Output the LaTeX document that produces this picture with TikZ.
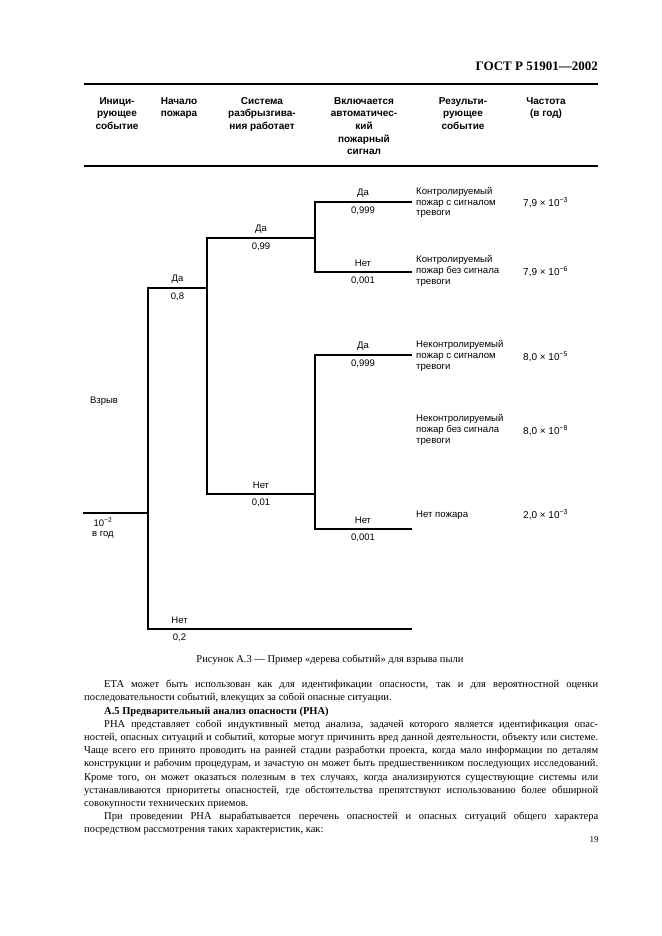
\documentclass[tikz,border=0pt]{standalone}
\usepackage{fontspec}
\setmainfont{Liberation Serif}
\setsansfont{Liberation Sans}
\usetikzlibrary{positioning}

% one justified line of the running text
\newcommand{\jline}[1]{\makebox[514pt][s]{#1}}
\newcommand{\pind}{\hspace*{20pt}}

\begin{document}
\begin{tikzpicture}[x=1pt, y=-1pt,
    hdr/.style={font=\sffamily\bfseries\fontsize{10}{12.7}\selectfont, align=center, anchor=north, inner sep=0pt},
    rule/.style={line width=1.8pt},
    branch/.style={line width=2.2pt, line cap=rect},
    lbl/.style={font=\sffamily\fontsize{9.5}{10}\selectfont, inner sep=0pt},
    outc/.style={font=\sffamily\fontsize{9.6}{10.8}\selectfont, align=left, anchor=west, inner sep=0pt},
    freq/.style={font=\sffamily\fontsize{10}{11}\selectfont, anchor=west, inner sep=0pt},
    body/.style={font=\fontsize{10.5}{13.2}\selectfont, align=left, anchor=north west, inner sep=0pt}
]
\fill[white] (0,0) rectangle (661,936);
\useasboundingbox (0,0) rectangle (661,936);

% page head
\node[font=\bfseries\fontsize{13}{15}\selectfont, anchor=east, inner sep=0pt] (gost) at (598,66) {ГОСТ Р 51901—2002};

% table head
\coordinate (ruleTL) at (84,84);
\coordinate (ruleTR) at (598,84);
\coordinate (ruleBL) at (84,166);
\coordinate (ruleBR) at (598,166);
\draw[rule] (ruleTL) -- (ruleTR);
\draw[rule] (ruleBL) -- (ruleBR);

\node[hdr] (hInit) at (117,97) {Иници-\\рующее\\событие};
\node[hdr] (hFire) at (179,97) {Начало\\пожара};
\node[hdr] (hSpr) at (262,97) {Система\\разбрызгива-\\ния работает};
\node[hdr] (hAlarm) at (364,97) {Включается\\автоматичес-\\кий\\пожарный\\сигнал};
\node[hdr] (hRes) at (463,97) {Результи-\\рующее\\событие};
\node[hdr] (hFreq) at (546,97) {Частота\\(в год)};

% tree points
\coordinate (ini) at (84,513);
\coordinate (fire) at (148,513);
\coordinate (fireY) at (148,288);
\coordinate (fireN) at (148,629);
\coordinate (sprA) at (207,288);
\coordinate (sprY) at (207,238);
\coordinate (sprN) at (207,494);
\coordinate (al1) at (315,238);
\coordinate (al1Y) at (315,202);
\coordinate (al1N) at (315,272);
\coordinate (al2) at (315,494);
\coordinate (al2Y) at (315,355);
\coordinate (al2N) at (315,529);
\coordinate (end1) at (411,202);
\coordinate (end2) at (411,272);
\coordinate (end3) at (411,355);
\coordinate (end5) at (411,529);
\coordinate (end6) at (411,629);

\draw[branch] (ini) -- (fire);
\draw[branch] (fireY) -- (fireN);
\draw[branch] (fireY) -- node[lbl, above=4pt] (yFire) {Да} node[lbl, below=4pt] (pYFire) {0,8} (sprA);
\draw[branch] (fireN) -- node[lbl, pos=0.12, above=4pt] (nFire) {Нет} node[lbl, pos=0.12, below=4pt] (pNFire) {0,2} (end6);
\draw[branch] (sprY) -- (sprN);
\draw[branch] (sprY) -- node[lbl, above=4pt] (ySpr) {Да} node[lbl, below=4pt] (pYSpr) {0,99} (al1);
\draw[branch] (sprN) -- node[lbl, above=4pt] (nSpr) {Нет} node[lbl, below=4pt] (pNSpr) {0,01} (al2);
\draw[branch] (al1Y) -- (al1N);
\draw[branch] (al1Y) -- node[lbl, above=4pt] (yAl1) {Да} node[lbl, below=4pt] (pYAl1) {0,999} (end1);
\draw[branch] (al1N) -- node[lbl, above=4pt] (nAl1) {Нет} node[lbl, below=4pt] (pNAl1) {0,001} (end2);
\draw[branch] (al2Y) -- (al2N);
\draw[branch] (al2Y) -- node[lbl, above=4pt] (yAl2) {Да} node[lbl, below=4pt] (pYAl2) {0,999} (end3);
\draw[branch] (al2N) -- node[lbl, above=4pt] (nAl2) {Нет} node[lbl, below=4pt] (pNAl2) {0,001} (end5);

% initiating event
\node[lbl] (blast) at (104,401) {Взрыв};
\node[lbl] (rate) at (103,522) {10\textsuperscript{−2}};
\node[lbl] (perYear) at (103,535) {в год};

% outcomes and frequencies
\node[outc] (out1) at (416,202.5) {Контролируемый\\пожар с сигналом\\тревоги};
\node[outc] (out2) at (416,271) {Контролируемый\\пожар без сигнала\\тревоги};
\node[outc] (out3) at (416,356) {Неконтролируемый\\пожар с сигналом\\тревоги};
\node[outc] (out4) at (416,430) {Неконтролируемый\\пожар без сигнала\\тревоги};
\node[outc] (out5) at (416,515) {Нет пожара};

\node[freq] (f1) at (523,203) {7,9 × 10\textsuperscript{−3}};
\node[freq] (f2) at (523,272) {7,9 × 10\textsuperscript{−6}};
\node[freq] (f3) at (523,357) {8,0 × 10\textsuperscript{−5}};
\node[freq] (f4) at (523,431) {8,0 × 10\textsuperscript{−8}};
\node[freq] (f5) at (523,515) {2,0 × 10\textsuperscript{−3}};

% caption and running text
\node[font=\fontsize{10.5}{13}\selectfont, inner sep=0pt] (caption) at (330,660) {Рисунок А.3 — Пример «дерева событий» для взрыва пыли};

\node[body] (text) at (84,680) {%
\jline{\pind ЕТА может быть использован как для идентификации опасности, так и для вероятностной оценки}\\
последовательности событий, влекущих за собой опасные ситуации.\\
\pind\textbf{А.5 Предварительный анализ опасности (РНА)}\\
\jline{\pind РНА представляет собой индуктивный метод анализа, задачей которого является идентификация опас-}\\
\jline{ностей, опасных ситуаций и событий, которые могут причинить вред данной деятельности, объекту или системе.}\\
\jline{Чаще всего его принято проводить на ранней стадии разработки проекта, когда мало информации по деталям}\\
\jline{конструкции и рабочим процедурам, и зачастую он может быть предшественником последующих исследований.}\\
\jline{Кроме того, он может оказаться полезным в тех случаях, когда анализируются существующие системы или}\\
\jline{устанавливаются приоритеты опасностей, где обстоятельства препятствуют использованию более обширной}\\
совокупности технических приемов.\\
\jline{\pind При проведении РНА вырабатывается перечень опасностей и опасных ситуаций общего характера}\\
посредством рассмотрения таких характеристик, как:};

\node[font=\fontsize{9}{11}\selectfont, inner sep=0pt] (pageNo) at (594,840) {19};
\end{tikzpicture}
\end{document}
